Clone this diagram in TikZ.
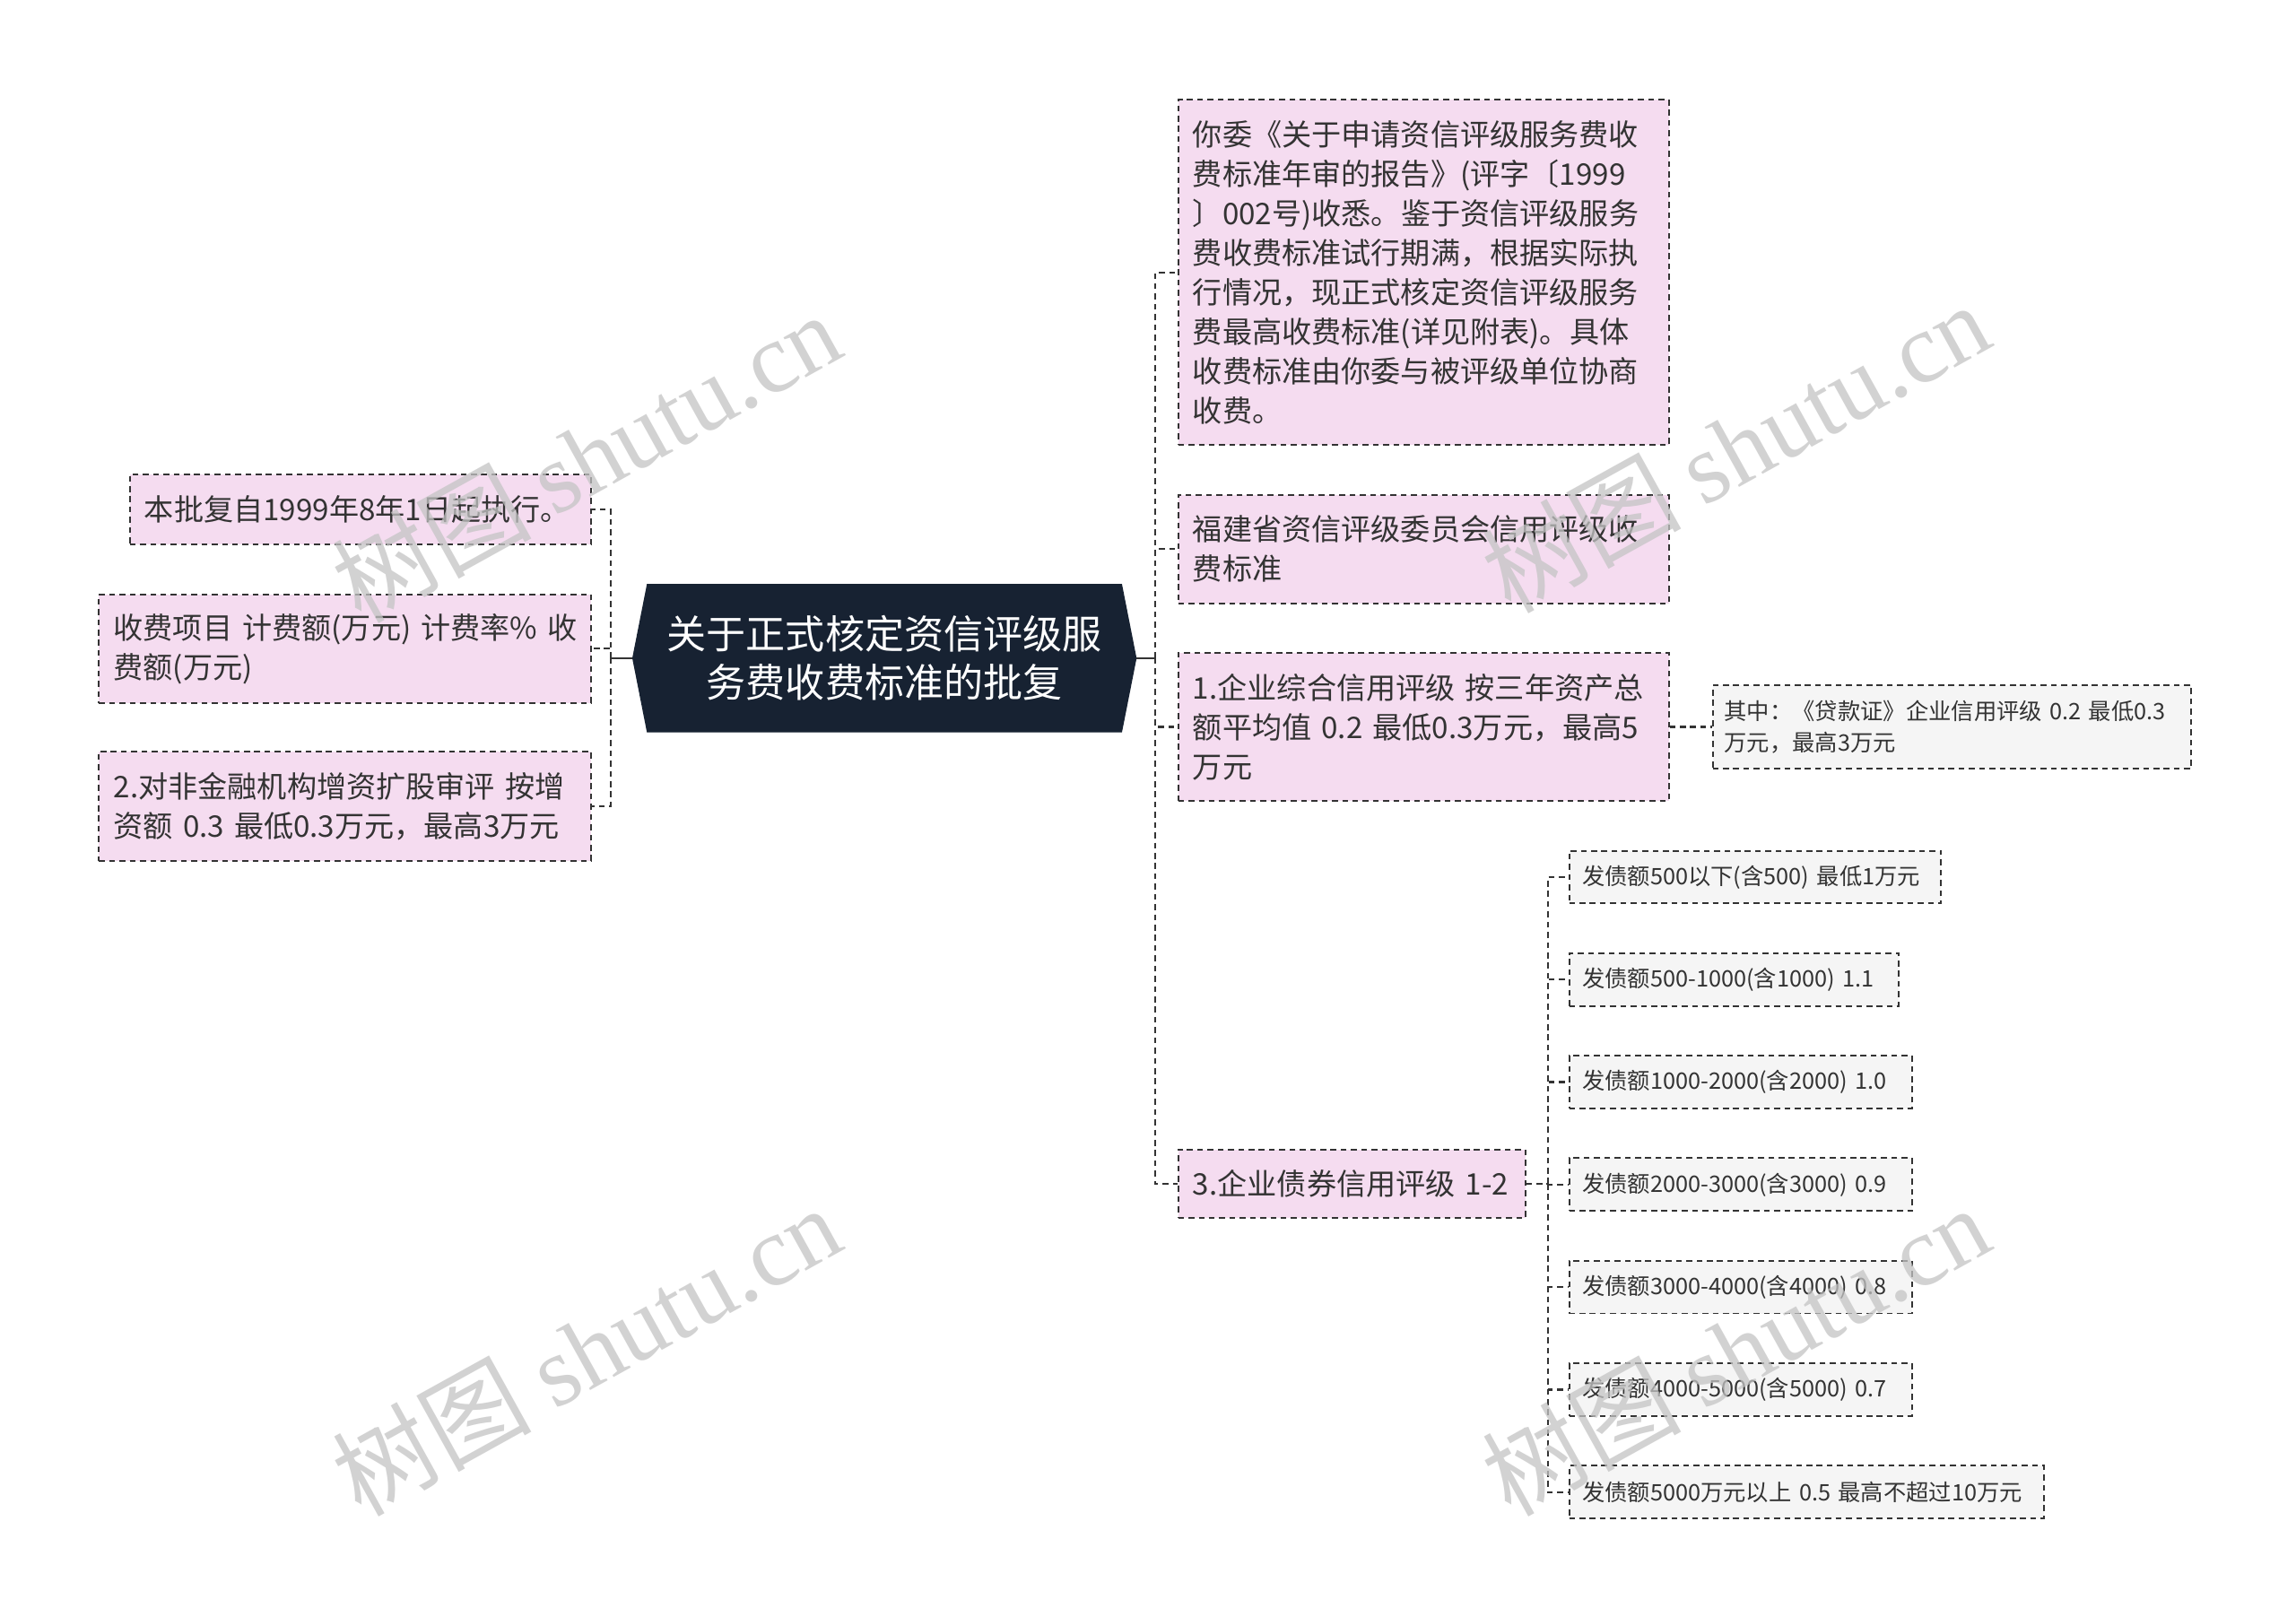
\documentclass[tikz,border=0pt]{standalone}
\usepackage{fontspec}
\setmainfont{Noto Sans CJK SC}
\newfontfamily\wmserif{Liberation Serif}
\usetikzlibrary{backgrounds}
\definecolor{pinkfill}{HTML}{F5DCF0}
\definecolor{grayfill}{HTML}{F5F5F5}
\definecolor{navy}{HTML}{172232}
\definecolor{ink}{HTML}{333333}
\definecolor{wmgray}{HTML}{C4C4C4}
\tikzset{
  topic/.style={draw=ink, dash pattern=on 4pt off 3pt, line width=1.2pt, fill=pinkfill,
    anchor=west, align=left, inner xsep=10pt, inner ysep=0pt, text=ink,
    font=\fontsize{20.3}{27}\selectfont},
  leaf/.style={topic, fill=grayfill, font=\fontsize{15.5}{21}\selectfont},
  conn/.style={draw=ink, dash pattern=on 4pt off 3pt, line width=1.4pt},
  solidconn/.style={draw=ink, line width=1.6pt},
  wm/.style={text=wmgray, opacity=0.75, font=\fontsize{68}{68}\selectfont, inner sep=0pt}
}
\begin{document}
\begin{tikzpicture}[x=1pt,y=-1pt]
\useasboundingbox (0,0) rectangle (1568,1104);

% center
\node[minimum width=344pt, minimum height=101pt, inner sep=0pt, align=center, text=white,
  font=\fontsize{27}{33}\selectfont] (C) at (604,449.5) {关于正式核定资信评级服\\务费收费标准的批复};
\begin{scope}[on background layer]
\fill[white] (0,0) rectangle (1568,1104);
\fill[navy] (C.west) -- ([xshift=10pt]C.north west) -- ([xshift=-10pt]C.north east) -- (C.east)
  -- ([xshift=-10pt]C.south east) -- ([xshift=10pt]C.south west) -- cycle;
\end{scope}

% left
\node[topic, text width=295pt, minimum height=48pt] (L1) at (88,348) {本批复自1999年8年1日起执行。};
\node[topic, text width=316pt, minimum height=74pt] (L2) at (67,443) {收费项目~计费额(万元)~计费率\%~收\\费额(万元)};
\node[topic, text width=316pt, minimum height=75pt] (L3) at (67,550.5) {2.对非金融机构增资扩股审评~按增\\资额~0.3~最低0.3万元，最高3万元};

% right
\node[topic, text width=315pt, minimum height=236pt] (R1) at (804,186) {你委《关于申请资信评级服务费收\\费标准年审的报告》(评字〔1999\\〕002号)收悉。鉴于资信评级服务\\费收费标准试行期满，根据实际执\\行情况，现正式核定资信评级服务\\费最高收费标准(详见附表)。具体\\收费标准由你委与被评级单位协商\\收费。};
\node[topic, text width=315pt, minimum height=74pt] (R2) at (804,375) {福建省资信评级委员会信用评级收\\费标准};
\node[topic, text width=315pt, minimum height=101pt] (R3) at (804,496.5) {1.企业综合信用评级~按三年资产总\\额平均值~0.2~最低0.3万元，最高5\\万元};
\node[topic, text width=217pt, minimum height=47pt] (R4) at (804,808.5) {3.企业债券信用评级~1-2};

\node[leaf, text width=311pt, minimum height=57pt, inner xsep=8pt] (S) at (1169,496.5) {其中：《贷款证》企业信用评级~0.2~最低0.3\\万元，最高3万元};

\node[leaf, text width=236pt, minimum height=36pt, inner xsep=9pt] (K1) at (1071,599) {发债额500以下(含500)~最低1万元};
\node[leaf, text width=207pt, minimum height=36pt, inner xsep=9pt] (K2) at (1071,669) {发债额500-1000(含1000)~1.1};
\node[leaf, text width=216pt, minimum height=36pt, inner xsep=9pt] (K3) at (1071,739) {发债额1000-2000(含2000)~1.0};
\node[leaf, text width=216pt, minimum height=36pt, inner xsep=9pt] (K4) at (1071,809) {发债额2000-3000(含3000)~0.9};
\node[leaf, text width=216pt, minimum height=36pt, inner xsep=9pt] (K5) at (1071,879) {发债额3000-4000(含4000)~0.8};
\node[leaf, text width=216pt, minimum height=36pt, inner xsep=9pt] (K6) at (1071,949) {发债额4000-5000(含5000)~0.7};
\node[leaf, text width=306pt, minimum height=36pt, inner xsep=9pt] (K7) at (1071,1019) {发债额5000万元以上~0.5~最高不超过10万元};

% connectors
\coordinate (lt) at (417,449.5);
\coordinate (rt) at (789,449.5);
\coordinate (kt) at (1057,808.5);
\draw[solidconn] (C.west) -- (lt);
\draw[solidconn] (C.east) -- (rt);
\draw[conn] (lt) |- (L1.east);
\draw[conn] (lt) |- (L2.east);
\draw[conn] (lt) |- (L3.east);
\draw[conn] (rt) |- (R1.west);
\draw[conn] (rt) |- (R2.west);
\draw[conn] (rt) |- (R3.west);
\draw[conn] (rt) |- (R4.west);
\draw[conn] (R3.east) -- (S.west);
\draw[conn] (R4.east) -- (kt);
\foreach \k in {K1,K2,K3,K4,K5,K6,K7} {\draw[conn] (kt) |- (\k.west);}

% watermarks
\node[wm, rotate=29] (w1) at (400,312) {树图 {\wmserif shutu.cn}};
\node[wm, rotate=29] (w2) at (1185,305) {树图 {\wmserif shutu.cn}};
\node[wm, rotate=29] (w3) at (400,922) {树图 {\wmserif shutu.cn}};
\node[wm, rotate=29] (w4) at (1185,922) {树图 {\wmserif shutu.cn}};
\end{tikzpicture}
\end{document}
